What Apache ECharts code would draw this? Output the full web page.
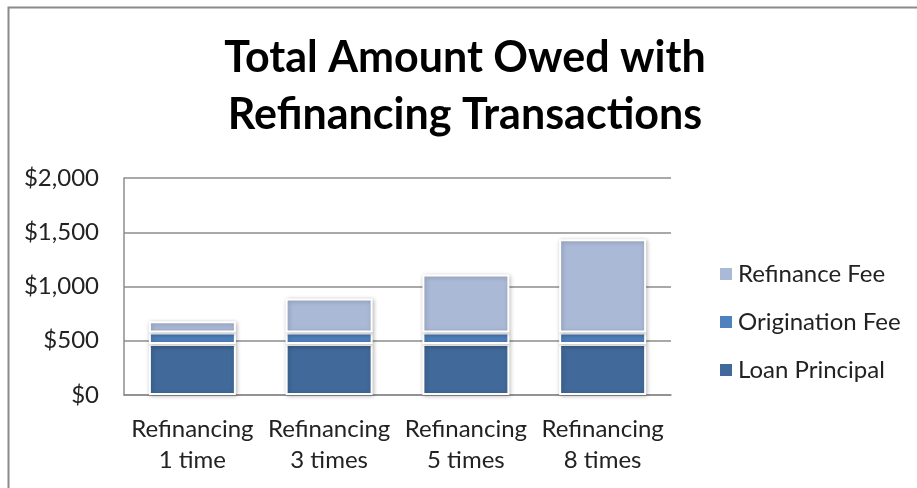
<!DOCTYPE html>
<html>
<head>
<meta charset="utf-8">
<script src="https://cdn.jsdelivr.net/npm/echarts@6/dist/echarts.min.js"></script>
<style>
  html, body { margin: 0; padding: 0; background: #fff; }
  #chart { width: 917px; height: 488px; }
</style>
</head>
<body>
<div id="chart"></div>
<script>
var categories = ['Refinancing\n1 time', 'Refinancing\n3 times', 'Refinancing\n5 times', 'Refinancing\n8 times'];
var loanPrincipal = [470, 470, 470, 470];
var originationFee = [105, 105, 105, 105];
var refinanceFee = [105, 315, 535, 860];
var legendOrder = ['Refinance Fee', 'Origination Fee', 'Loan Principal'];

var font = 'Lato';
var chart = echarts.init(document.getElementById('chart'));

function barSeries(name, data, color) {
    return {
        name: name,
        type: 'bar',
        stack: 'total',
        barWidth: 87,
        data: data,
        itemStyle: {
            color: color,
            borderColor: '#fff',
            borderWidth: 2,
            shadowBlur: 4,
            shadowColor: 'rgba(0,0,0,0.25)',
            shadowOffsetX: 1,
            shadowOffsetY: 1
        }
    };
}

var option = {
    animation: false,
    backgroundColor: '#fff',
    graphic: [{
        type: 'polyline',
        shape: { points: [[8.5, 488], [8.5, 7.5], [917, 7.5]] },
        style: { stroke: '#8a8a8a', lineWidth: 2, fill: null }
    }],
    title: {
        text: 'Total Amount Owed with\nRefinancing Transactions',
        left: 460,
        textAlign: 'center',
        top: 25,
        textStyle: {
            fontFamily: font,
            fontWeight: 'bold',
            fontSize: 43,
            lineHeight: 57,
            color: '#000'
        }
    },
    legend: {
        data: legendOrder,
        orient: 'vertical',
        left: 713,
        top: 257,
        itemWidth: 14,
        itemHeight: 14,
        itemGap: 24,
        icon: 'rect',
        textStyle: { fontFamily: font, fontSize: 24, lineHeight: 24, color: '#222' }
    },
    grid: { left: 124, right: 246, top: 178, bottom: 93 },
    xAxis: {
        type: 'category',
        data: categories,
        axisLine: { lineStyle: { color: '#8c8c8c', width: 1.5 } },
        axisTick: { show: false },
        axisLabel: {
            fontFamily: font,
            fontSize: 24,
            color: '#222',
            lineHeight: 31,
            margin: 19,
            interval: 0
        }
    },
    yAxis: {
        type: 'value',
        min: 0,
        max: 2000,
        interval: 500,
        axisLine: { show: true, lineStyle: { color: '#8c8c8c', width: 1.5 } },
        axisTick: { show: false },
        splitLine: { lineStyle: { color: '#8c8c8c', width: 1.5 } },
        axisLabel: {
            fontFamily: font,
            fontSize: 24,
            color: '#222',
            margin: 25,
            formatter: function (v) { return '$' + v.toLocaleString('en-US'); }
        }
    },
    series: [
        barSeries('Loan Principal', loanPrincipal, '#416999'),
        barSeries('Origination Fee', originationFee, '#4F81BD'),
        barSeries('Refinance Fee', refinanceFee, '#AAB9D6')
    ]
};

chart.setOption(option);
</script>
</body>
</html>
